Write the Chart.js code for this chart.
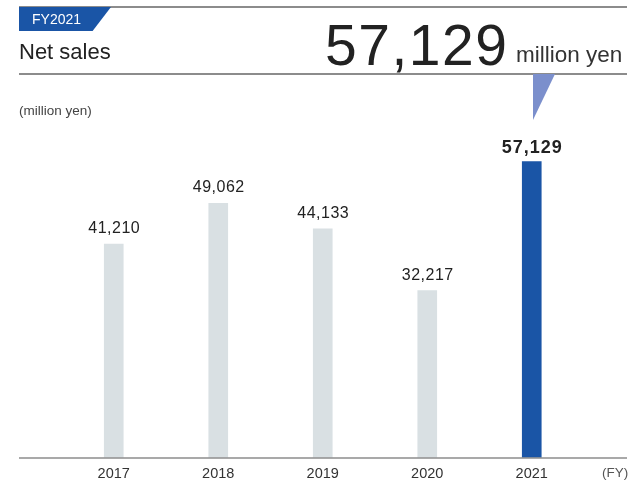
<!DOCTYPE html>
<html>
<head>
<meta charset="utf-8">
<script src="https://cdn.jsdelivr.net/npm/chart.js@4/dist/chart.umd.min.js"></script>
<style>
  body { margin: 0; background: #fff; font-family: "Liberation Sans", Arial, sans-serif; color: #222; }
  #wrap { position: relative; width: 630px; height: 487px; overflow: hidden; }
  #chart { position: absolute; left: 0; top: 0; }
  .rule { position: absolute; left: 19px; width: 608px; height: 2px; background: #8c8c8c; }
  .txt { position: absolute; line-height: 1; white-space: nowrap; }
  #tab { position: absolute; left: 19px; top: 7px; width: 92px; height: 24px; background: #1a55a6;
         clip-path: polygon(0 0, 100% 0, 80% 100%, 0 100%); }
  #pointer { position: absolute; left: 533px; top: 74px; width: 22px; height: 46px; background: #7b8fcc;
             clip-path: polygon(0 0, 100% 0, 0 100%); }
</style>
</head>
<body>
<div id="wrap">
  <canvas id="chart" width="630" height="487"></canvas>
  <div class="rule" style="top:6px"></div>
  <div id="tab"></div>
  <div class="txt" style="left:32px; top:12px; font-size:14px; color:#fff">FY2021</div>
  <div class="txt" style="left:19px; top:41px; font-size:22px; color:#222">Net sales</div>
  <div class="txt" style="left:325px; top:17px; font-size:57px; letter-spacing:1.5px; color:#222">57,129</div>
  <div class="txt" style="left:516px; top:44px; font-size:22.5px; color:#333">million yen</div>
  <div class="rule" style="top:73px"></div>
  <div id="pointer"></div>
  <div class="txt" style="left:19px; top:104px; font-size:13.5px; color:#444">(million yen)</div>
</div>
<script>
// Net sales by fiscal year (million yen)
const years = ["2017", "2018", "2019", "2020", "2021"];
const sales = [41210, 49062, 44133, 32217, 57129];
const barColors = ["#d9e0e3", "#d9e0e3", "#d9e0e3", "#d9e0e3", "#1a55a6"];

const fmt = (v) => v.toLocaleString("en-US");

// value labels above bars, full-width baseline and the (FY) unit
const extras = {
    id: "extras",
    afterDatasetsDraw(chart) {
        const ctx = chart.ctx;
        const meta = chart.getDatasetMeta(0);
        ctx.save();
        ctx.textAlign = "center";
        ctx.textBaseline = "alphabetic";
        meta.data.forEach((bar, i) => {
            const last = i === sales.length - 1;
            ctx.font = last ? "bold 18px 'Liberation Sans', Arial" : "16px 'Liberation Sans', Arial";
            ctx.letterSpacing = last ? "1px" : "0.5px";
            ctx.fillStyle = "#222";
            ctx.fillText(fmt(sales[i]), bar.x + 0.5, bar.y - (last ? 9 : 11));
        });
        ctx.letterSpacing = "0px";

        const y = chart.scales.y.getPixelForValue(0);
        ctx.strokeStyle = "#555";
        ctx.lineWidth = 1.2;
        ctx.beginPath();
        ctx.moveTo(19, y + 0.5);
        ctx.lineTo(627, y + 0.5);
        ctx.stroke();

        ctx.font = "13.5px 'Liberation Sans', Arial";
        ctx.fillStyle = "#555";
        ctx.textAlign = "left";
        ctx.fillText("(FY)", 602, 477);
        ctx.restore();
    }
};

new Chart(document.getElementById("chart"), {
    type: "bar",
    data: {
        labels: years,
        datasets: [{
            data: sales,
            backgroundColor: barColors,
            barThickness: 19,
            borderWidth: 0
        }]
    },
    options: {
        responsive: false,
        animation: false,
        layout: { padding: { left: 61.5, right: 46, top: 126, bottom: 0 } },
        scales: {
            x: {
                grid: { display: false },
                border: { display: false },
                ticks: { color: "#333", font: { size: 14.5, family: "'Liberation Sans', Arial" }, padding: 0 },
                afterFit(scale) { scale.height = 29.5; }
            },
            y: { display: false, min: 0, max: 64000 }
        },
        plugins: { legend: { display: false }, tooltip: { enabled: false } }
    },
    plugins: [extras]
});
</script>
</body>
</html>
